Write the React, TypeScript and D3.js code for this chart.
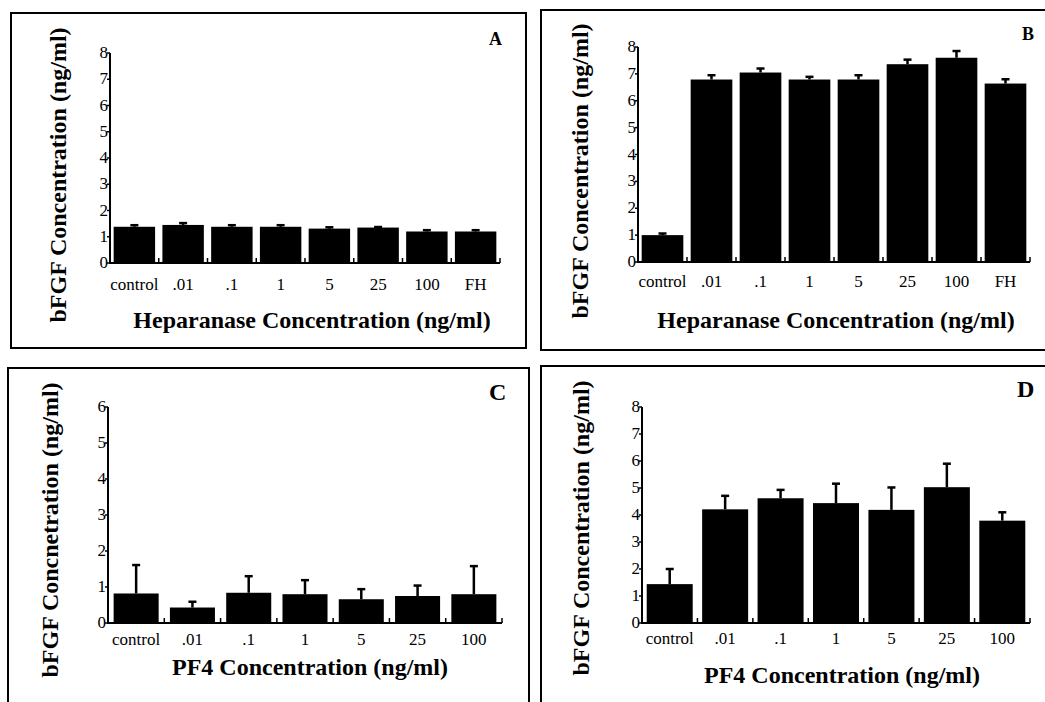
import React from "react";
import * as d3 from "d3";

// ---------- data ----------
const heparanaseCategories = ["control", ".01", ".1", "1", "5", "25", "100", "FH"];
const pf4Categories = ["control", ".01", ".1", "1", "5", "25", "100"];

const panelAValues = [1.38, 1.45, 1.38, 1.38, 1.31, 1.35, 1.2, 1.2];
const panelAErrors = [0.06, 0.07, 0.06, 0.06, 0.05, 0.02, 0.05, 0.05];

const panelBValues = [1.0, 6.79, 7.05, 6.79, 6.79, 7.36, 7.6, 6.64];
const panelBErrors = [0.06, 0.16, 0.15, 0.1, 0.16, 0.17, 0.25, 0.16];

const panelCValues = [0.82, 0.43, 0.84, 0.8, 0.66, 0.75, 0.8];
const panelCErrors = [0.79, 0.16, 0.46, 0.39, 0.28, 0.29, 0.78];

const panelDValues = [1.44, 4.21, 4.62, 4.44, 4.19, 5.03, 3.79];
const panelDErrors = [0.56, 0.5, 0.31, 0.72, 0.83, 0.87, 0.31];

const yTicks0to8 = [0, 1, 2, 3, 4, 5, 6, 7, 8];
const yTicks0to6 = [0, 1, 2, 3, 4, 5, 6];

const yLabelConcentration = "bFGF Concentration (ng/ml)";
const yLabelConcnetration = "bFGF Concnetration (ng/ml)";
const xLabelHeparanase = "Heparanase Concentration (ng/ml)";
const xLabelPF4 = "PF4 Concentration (ng/ml)";

// ---------- layout ----------
type Panel = {
  letter: string;
  cats: string[];
  values: number[];
  errors: number[];
  yMax: number;
  yTicks: number[];
  yLabel: string;
  xLabel: string;
  box: [number, number, number, number];
  axisX: number;
  xEnd: number;
  y0: number;
  yTop: number;
  pad: number;
  tickBaseline: number;
  xLabelX: number;
  xLabelY: number;
  yLabelX: number;
  yLabelY: number;
  letterX: number;
  letterY: number;
  letterSize: number;
};

const panels: Panel[] = [
  {
    letter: "A", cats: heparanaseCategories, values: panelAValues, errors: panelAErrors,
    yMax: 8, yTicks: yTicks0to8, yLabel: yLabelConcentration, xLabel: xLabelHeparanase,
    box: [11, 13, 515, 335], axisX: 110, xEnd: 500, y0: 263, yTop: 53, pad: 0.15,
    tickBaseline: 290, xLabelX: 312, xLabelY: 328, yLabelX: 66, yLabelY: 175,
    letterX: 489, letterY: 45, letterSize: 18,
  },
  {
    letter: "B", cats: heparanaseCategories, values: panelBValues, errors: panelBErrors,
    yMax: 8, yTicks: yTicks0to8, yLabel: yLabelConcentration, xLabel: xLabelHeparanase,
    box: [541, 10, 520, 340], axisX: 638, xEnd: 1030, y0: 262, yTop: 47, pad: 0.15,
    tickBaseline: 287, xLabelX: 836, xLabelY: 328, yLabelX: 588, yLabelY: 171,
    letterX: 1022, letterY: 40, letterSize: 18,
  },
  {
    letter: "C", cats: pf4Categories, values: panelCValues, errors: panelCErrors,
    yMax: 6, yTicks: yTicks0to6, yLabel: yLabelConcnetration, xLabel: xLabelPF4,
    box: [8, 368, 521, 350], axisX: 108, xEnd: 502, y0: 623, yTop: 407, pad: 0.2,
    tickBaseline: 645, xLabelX: 310, xLabelY: 675, yLabelX: 58, yLabelY: 530,
    letterX: 489, letterY: 400, letterSize: 24,
  },
  {
    letter: "D", cats: pf4Categories, values: panelDValues, errors: panelDErrors,
    yMax: 8, yTicks: yTicks0to8, yLabel: yLabelConcentration, xLabel: xLabelPF4,
    box: [541, 366, 520, 350], axisX: 642, xEnd: 1030, y0: 623, yTop: 407, pad: 0.17,
    tickBaseline: 644, xLabelX: 842, xLabelY: 683, yLabelX: 589, yLabelY: 528,
    letterX: 1017, letterY: 397, letterSize: 24,
  },
];

const FONT = "'Liberation Serif', 'Times New Roman', Times, serif";

function PanelChart({ p }: { p: Panel }) {
  const x = d3
    .scaleBand<string>()
    .domain(p.cats)
    .range([p.axisX, p.xEnd])
    .paddingInner(p.pad)
    .paddingOuter(p.pad / 2);
  const y = d3.scaleLinear().domain([0, p.yMax]).range([p.y0, p.yTop]);
  const step = x.step();
  const boundaries = d3.range(1, p.cats.length + 1).map((i) => p.axisX + i * step);

  return (
    <g>
      <rect
        x={p.box[0]}
        y={p.box[1]}
        width={p.box[2]}
        height={p.box[3]}
        fill="none"
        stroke="#000"
        strokeWidth={2}
      />
      {/* bars */}
      {p.cats.map((c, i) => {
        const bx = x(c) as number;
        const bw = x.bandwidth();
        const top = y(p.values[i]);
        const errTop = y(p.values[i] + p.errors[i]);
        const cx = bx + bw / 2;
        return (
          <g key={c}>
            <rect x={bx} y={top} width={bw} height={p.y0 - top} fill="#000" />
            <line x1={cx} x2={cx} y1={top} y2={errTop} stroke="#000" strokeWidth={2.5} />
            <line x1={cx - 4} x2={cx + 4} y1={errTop} y2={errTop} stroke="#000" strokeWidth={2.5} />
          </g>
        );
      })}
      {/* y axis */}
      <line x1={p.axisX} x2={p.axisX} y1={p.y0 + 1} y2={p.yTop} stroke="#000" strokeWidth={2} />
      {p.yTicks.map((t) => (
        <g key={t}>
          <line x1={p.axisX - 3} x2={p.axisX} y1={y(t)} y2={y(t)} stroke="#000" strokeWidth={1.5} />
          <text
            x={p.axisX - 2}
            y={y(t)}
            dy="0.3em"
            textAnchor="end"
            fontFamily={FONT}
            fontSize={17}
            fill="#000"
          >
            {t}
          </text>
        </g>
      ))}
      {/* x axis */}
      <line x1={p.axisX - 1} x2={p.xEnd} y1={p.y0} y2={p.y0} stroke="#000" strokeWidth={2} />
      {boundaries.map((bx, i) => (
        <line key={i} x1={bx} x2={bx} y1={p.y0} y2={p.y0 - 5} stroke="#000" strokeWidth={1.5} />
      ))}
      {p.cats.map((c) => (
        <text
          key={c}
          x={(x(c) as number) + x.bandwidth() / 2}
          y={p.tickBaseline}
          textAnchor="middle"
          fontFamily={FONT}
          fontSize={17}
          fill="#000"
        >
          {c}
        </text>
      ))}
      {/* axis titles */}
      <text
        x={p.xLabelX}
        y={p.xLabelY}
        textAnchor="middle"
        fontFamily={FONT}
        fontWeight="bold"
        fontSize={24}
        fill="#000"
      >
        {p.xLabel}
      </text>
      <text
        transform={`translate(${p.yLabelX},${p.yLabelY}) rotate(-90)`}
        textAnchor="middle"
        fontFamily={FONT}
        fontWeight="bold"
        fontSize={24}
        fill="#000"
      >
        {p.yLabel}
      </text>
      <text
        x={p.letterX}
        y={p.letterY}
        fontFamily={FONT}
        fontWeight="bold"
        fontSize={p.letterSize}
        fill="#000"
      >
        {p.letter}
      </text>
    </g>
  );
}

export default function App() {
  return (
    <svg
      width={1045}
      height={702}
      style={{ position: "absolute", left: 0, top: 0, background: "#fff" }}
    >
      <rect x={0} y={0} width={1045} height={702} fill="#fff" />
      {panels.map((p) => (
        <PanelChart key={p.letter} p={p} />
      ))}
    </svg>
  );
}
